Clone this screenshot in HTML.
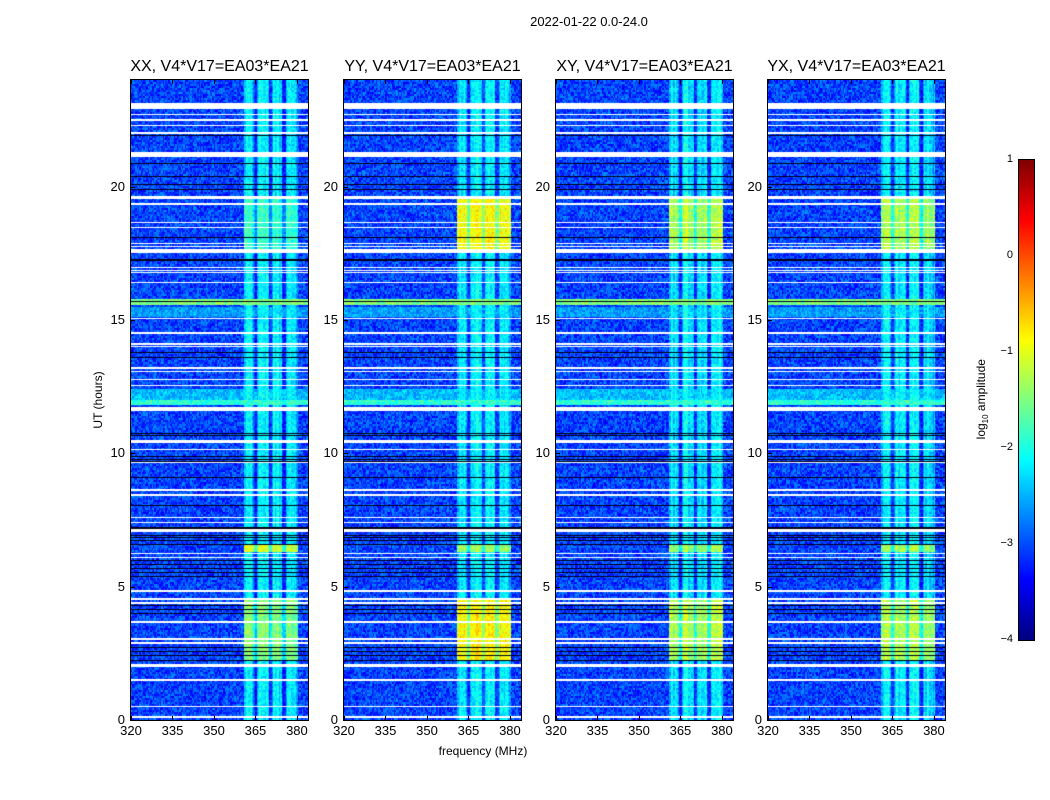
<!DOCTYPE html>
<html><head><meta charset="utf-8">
<style>
html,body{margin:0;padding:0;background:#fff;}
body{width:1050px;height:800px;position:relative;overflow:hidden;font-family:"Liberation Sans","DejaVu Sans",sans-serif;color:#000;}
.t{position:absolute;white-space:nowrap;}
canvas{position:absolute;}
.frame{position:absolute;border:1px solid #000;box-sizing:border-box;}
</style></head>
<body>
<div class="t" style="left:489px;top:14px;width:200px;text-align:center;font-size:13px;">2022-01-22 0.0-24.0</div>
<div class="t" style="left:383px;top:744px;width:200px;text-align:center;font-size:12px;">frequency (MHz)</div>
<div class="t" style="left:48px;top:393px;width:100px;text-align:center;font-size:12px;transform:rotate(-90deg);">UT (hours)</div>
<div id="root"></div>
<canvas id="cb" width="15" height="480" style="left:1019px;top:160px;"></canvas>
<div class="frame" style="left:1018px;top:159px;width:17px;height:482px;"></div>
<div class="t" style="left:922px;top:391px;width:120px;text-align:center;font-size:12px;transform:rotate(-90deg);">log<sub style="font-size:8px">10</sub> amplitude</div>
<script>
// ---- data ----
const panelTitles = ["XX, V4*V17=EA03*EA21","YY, V4*V17=EA03*EA21","XY, V4*V17=EA03*EA21","YX, V4*V17=EA03*EA21"];
const xTicks = [320,335,350,365,380];
const yTicks = [0,5,10,15,20];
const cbTicks = [1,0,-1,-2,-3,-4];
const backgroundLevel = -3.05;
const bandRange = [360.7, 380.4];          // MHz, bright RFI band
const bandGaps = [365.0, 370.5, 375.3];    // MHz, darker channels inside band
const bandBright = [[361.5,364.2],[366.0,369.8],[371.5,374.6],[376.5,379.5]]; // brighter sub-bands
const bandBase = [-2.55, -2.45, -2.5, -2.5]; // per panel
// [startHour, endHour, level per panel]
const bandSegments = [
  [17.5, 19.6, [-2.0, -0.9, -1.3, -1.35]],
  [2.2, 4.5, [-1.6, -0.85, -1.3, -1.35]],
  [6.3, 6.55, [-1.2, -1.4, -1.4, -1.4]]
];
// broadband bright rows [start, end, level]
const broadRows = [[15.55,15.78,-1.5],[11.8,12.0,-1.9],[12.0,12.4,-2.45],[15.1,15.5,-2.6]];
// flagged (white) rows [start, end]
const whiteRows = [[22.9,23.15],[22.68,22.74],[22.48,22.53],[22.27,22.33],[21.98,22.04],[21.1,21.3],[19.55,19.65],[19.33,19.38],[18.63,18.68],[18.44,18.49],[17.85,17.9],[17.73,17.78],[17.5,17.68],[16.95,17.0],[16.83,16.88],[16.76,16.8],[16.38,16.43],[15.03,15.08],[14.48,14.55],[14.08,14.12],[13.98,14.02],[13.18,13.23],[13.05,13.1],[12.75,12.8],[12.53,12.58],[11.6,11.72],[10.4,10.5],[10.13,10.18],[9.64,9.69],[8.6,8.68],[8.41,8.46],[7.58,7.63],[7.38,7.43],[7.05,7.2],[6.23,6.28],[6.08,6.13],[4.81,4.86],[4.5,4.56],[4.36,4.41],[3.65,3.7],[3.01,3.06],[2.86,2.91],[2.0,2.1],[1.48,1.53],[0.47,0.52],[0.09,0.14]];
// dark (zero) lines, hours
const darkLines = [21.95,20.9,20.4,20.1,19.9,18.1,17.27,15.72,13.8,13.6,10.7,10.75,9.7,9.8,9.9,9.1,8.05,7.22,6.95,6.85,6.75,6.6,6.0,5.85,5.7,5.55,5.4,4.3,4.15,4.0,2.73,2.6,2.45,2.25];

// ---- geometry ----
const panelX = [131,344,556,768];
const PW = 177, PT = 80, PH = 640;
const fMin = 320, fMax = 384;
const hMin = 0, hMax = 24;
function xOf(f, i){ return panelX[i] + (f - fMin) / (fMax - fMin) * PW; }
function yOf(h){ return PT + PH - (h - hMin) / (hMax - hMin) * PH; }

function jet(v){
  function c(x){ return Math.max(0, Math.min(1, x)); }
  const r = c(1.5 - Math.abs(4*v - 3));
  const g = c(1.5 - Math.abs(4*v - 2));
  const b = c(1.5 - Math.abs(4*v - 1));
  return [r*255|0, g*255|0, b*255|0];
}
function norm(l){ return Math.max(0, Math.min(1, (l + 4) / 5)); }
function hash(a,b,s){ let h = (a*374761393 + b*668265263 + s*1442695041) | 0; h = (h ^ (h >>> 13)) * 1274126177 | 0; h = h ^ (h >>> 16); return ((h >>> 0) % 10000) / 10000; }

const root = document.getElementById('root');
function mk(tag, css, name, text){
  const e = document.createElement(tag);
  e.style.cssText = css;
  
  
  if (text !== undefined) e.textContent = text;
  root.appendChild(e);
  return e;
}

for (let p = 0; p < 4; p++){
  const cv = document.createElement('canvas');
  cv.width = PW; cv.height = PH;
  cv.style.left = panelX[p] + 'px'; cv.style.top = PT + 'px';
  
  
  root.appendChild(cv);
  const ctx = cv.getContext('2d');
  const img = ctx.createImageData(PW, PH);
  for (let y = 0; y < PH; y++){
    const h = hMax - (y + 0.5) / PH * (hMax - hMin);
    let rowBroad = null;
    for (const r of broadRows) if (h >= r[0] && h <= r[1]) { rowBroad = r[2]; break; }
    let white = false;
    for (const r of whiteRows) if (h >= r[0] && h <= r[1]) { white = true; break; }
    let dark = false;
    for (const d of darkLines) if (Math.abs(yOf(d) - PT - y) < 0.6) { dark = true; break; }
    const ry = y >> 1;
    for (let x = 0; x < PW; x++){
      const f = fMin + (x + 0.5) / PW * (fMax - fMin);
      const cx = Math.floor((x + 0.5) / 1.38);
      let lvl = backgroundLevel + (hash(cx, ry, p) - 0.5) * 0.8;
      if (f >= bandRange[0] && f <= bandRange[1]){
        let b = bandBase[p];
        let seg = false;
        for (const s of bandSegments) if (h >= s[0] && h <= s[1]) { b = s[2][p]; seg = true; }
        let bright = false;
        for (const r of bandBright) if (f >= r[0] && f <= r[1]) bright = true;
        if (bright) b += seg ? 0.05 : 0.3;
        let gap = false;
        for (const g of bandGaps) if (Math.abs(f - g) < 0.6) gap = true;
        if (gap) b -= 0.6;
        const colv = (hash(cx, 7, p) - 0.5) * 0.4;
        lvl = b + colv + (hash(cx, ry, p+9) - 0.5) * 0.5;
      }
      if (rowBroad !== null) lvl = Math.max(lvl, rowBroad + (hash(cx, ry, p+3) - 0.5) * 0.6);
      let c = jet(norm(lvl));
      if (white) c = [255,255,255];
      if (dark) c = [0,0,20];
      const k = (y * PW + x) * 4;
      img.data[k] = c[0]; img.data[k+1] = c[1]; img.data[k+2] = c[2]; img.data[k+3] = 255;
    }
  }
  ctx.putImageData(img, 0, 0);
  mk('div', `position:absolute;left:${panelX[p]-1}px;top:${PT-1}px;width:${PW+2}px;height:${PH+2}px;border:1px solid #000;box-sizing:border-box;`, 'panel-frame-' + (p+1));
  mk('div', `position:absolute;left:${panelX[p]-30}px;top:58px;width:${PW+60}px;text-align:center;font-size:16px;white-space:nowrap;`, 'panel-title-' + (p+1), panelTitles[p]);
  for (const t of xTicks){
    const x = xOf(t, p);
    mk('div', `position:absolute;left:${x-20}px;top:723px;width:40px;text-align:center;font-size:13px;`, 'x-tick-label', String(t));
    mk('div', `position:absolute;left:${x}px;top:${PT}px;width:1px;height:4px;background:#000;`, 'x-tick-top');
    mk('div', `position:absolute;left:${x}px;top:${PT+PH-4}px;width:1px;height:4px;background:#000;`, 'x-tick-bottom');
  }
  for (const t of yTicks){
    const y = yOf(t);
    mk('div', `position:absolute;left:${panelX[p]-44}px;top:${y-8}px;width:38px;text-align:right;font-size:13px;`, 'y-tick-label', String(t));
    mk('div', `position:absolute;left:${panelX[p]}px;top:${y}px;width:4px;height:1px;background:#000;`, 'y-tick');
  }
}

// colorbar
const cb = document.getElementById('cb').getContext('2d');
for (let y = 0; y < 480; y++){
  const c = jet(1 - (y + 0.5) / 480);
  cb.fillStyle = `rgb(${c[0]},${c[1]},${c[2]})`;
  cb.fillRect(0, y, 15, 1);
}
for (const t of cbTicks){
  const y = 160 + (1 - t) / 5 * 480;
  mk('div', `position:absolute;left:983px;top:${y-7}px;width:30px;text-align:right;font-size:11px;`, 'colorbar-tick-label', (t < 0 ? '\u2212' + (-t) : String(t)));
  mk('div', `position:absolute;left:1019px;top:${y}px;width:3px;height:1px;background:#000;`, 'colorbar-tick');
}
</script>
</body></html>
